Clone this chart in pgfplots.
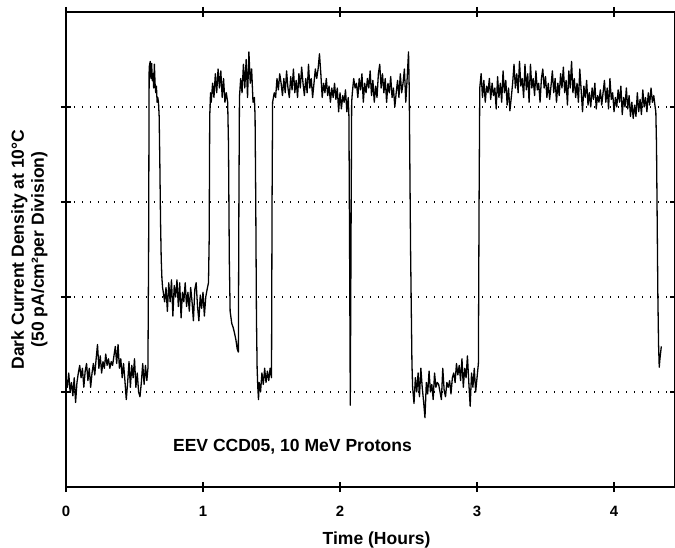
\documentclass[border=0pt]{standalone}
\usepackage{fontspec}
\setmainfont{Liberation Sans}
\usepackage{pgfplots}
\pgfplotsset{compat=1.18}
\begin{document}
\begin{tikzpicture}[font=\fontsize{17.6}{20}\selectfont\bfseries]
\useasboundingbox (-66bp,-61bp) rectangle (609bp,487bp);
\begin{axis}[
  at={(0,0)}, anchor=south west,
  scale only axis, width=609bp, height=475bp,
  xmin=0, xmax=4.445, ymin=0, ymax=5,
  xtick={0,1,2,3,4},
  ytick={1,2,3,4}, yticklabels={},
  tick align=center, major tick length=10bp,
  every tick/.style={black, line width=1.6bp},
  axis line style={line width=2bp},
  ymajorgrids,
  grid style={black, line width=1.4bp, dash pattern=on 1.4bp off 6.6bp},
  /pgf/number format/assume math mode=true,
  xticklabel style={font=\fontsize{15}{18}\selectfont\bfseries, yshift=-11bp},
  xlabel={Time (Hours)},
  xlabel style={at={(axis description cs:0.51,0)}, anchor=base, yshift=-57bp, inner sep=0pt},
  ylabel={Dark Current Density at 10°C\\(50 pA/cm²per Division)},
  ylabel style={align=center, at={(axis description cs:-0.03,0.5)}, anchor=south, inner sep=0pt},
  clip=true,
]
\addplot[black, line width=1.3bp, line join=round] table[row sep=\\] {
x y\\
0.00 1.15\\ 0.01 1.05\\ 0.02 1.20\\ 0.03 1.00\\ 0.04 1.10\\ 0.05 0.96\\ 0.06 1.15\\ 0.07 0.89\\ 0.08 1.10\\ 0.09 1.20\\
0.10 1.28\\ 0.11 1.15\\ 0.12 1.25\\ 0.13 1.05\\ 0.14 1.22\\ 0.15 1.30\\ 0.16 1.12\\ 0.17 1.25\\ 0.18 1.05\\ 0.19 1.20\\
0.20 1.30\\ 0.21 1.18\\ 0.22 1.35\\ 0.23 1.50\\ 0.24 1.25\\ 0.25 1.38\\ 0.26 1.20\\ 0.27 1.32\\ 0.28 1.25\\ 0.29 1.40\\
0.30 1.28\\ 0.31 1.35\\ 0.32 1.25\\ 0.33 1.32\\ 0.34 1.28\\ 0.35 1.38\\ 0.36 1.48\\ 0.37 1.30\\ 0.38 1.50\\ 0.39 1.25\\
0.40 1.35\\ 0.41 1.15\\ 0.42 1.30\\ 0.43 1.12\\ 0.44 0.92\\ 0.45 1.10\\ 0.46 1.32\\ 0.47 1.05\\ 0.48 1.28\\ 0.49 1.15\\
0.50 1.35\\ 0.51 1.05\\ 0.52 1.20\\ 0.53 1.00\\ 0.54 0.95\\ 0.55 1.10\\ 0.56 1.30\\ 0.57 1.08\\ 0.58 1.28\\ 0.59 1.12\\
0.598 1.25\\ 0.603 2.5\\ 0.607 4.42\\ 0.615 4.48\\ 0.62 4.30\\ 0.625 4.46\\ 0.63 4.28\\ 0.635 4.35\\ 0.64 4.20\\ 0.645 4.45\\
0.65 4.25\\ 0.655 4.15\\ 0.66 4.22\\ 0.665 4.05\\ 0.67 4.10\\ 0.675 4.05\\ 0.68 3.9\\ 0.685 3.4\\ 0.69 2.8\\ 0.695 2.4\\ 0.70 2.2\\ 0.705 2.1\\
0.71 2.05\\ 0.72 1.95\\ 0.73 2.10\\ 0.74 1.85\\ 0.75 2.15\\ 0.76 1.95\\ 0.77 2.18\\ 0.78 1.80\\ 0.79 2.12\\ 0.80 2.00\\
0.81 2.18\\ 0.82 1.90\\ 0.83 2.15\\ 0.84 1.78\\ 0.85 2.05\\ 0.86 1.95\\ 0.87 2.15\\ 0.88 1.90\\ 0.89 2.05\\ 0.90 1.85\\
0.91 2.10\\ 0.92 1.95\\ 0.93 1.75\\ 0.94 2.08\\ 0.95 2.15\\ 0.96 1.90\\ 0.97 1.75\\ 0.98 2.02\\ 0.99 1.88\\ 1.00 2.05\\
1.01 1.80\\ 1.02 2.00\\ 1.03 2.08\\ 1.04 2.15\\ 1.045 2.6\\ 1.049 3.9\\ 1.055 4.15\\
1.06 4.05\\ 1.07 4.25\\ 1.08 4.10\\ 1.09 4.35\\ 1.10 4.15\\ 1.11 4.40\\ 1.12 4.20\\ 1.13 4.38\\ 1.14 4.10\\ 1.15 4.30\\
1.16 4.05\\ 1.17 4.15\\ 1.18 4.05\\ 1.186 3.6\\ 1.192 2.4\\ 1.198 1.85\\ 1.21 1.72\\ 1.22 1.68\\ 1.23 1.62\\ 1.24 1.55\\ 1.25 1.45\\ 1.258 1.42\\
1.262 3.0\\ 1.266 4.1\\ 1.275 4.30\\ 1.285 4.15\\ 1.295 4.45\\ 1.305 4.20\\ 1.315 4.50\\ 1.325 4.10\\ 1.335 4.58\\ 1.345 4.25\\
1.355 4.40\\ 1.365 4.05\\ 1.375 4.10\\ 1.38 3.9\\ 1.385 3.0\\ 1.39 1.8\\ 1.395 1.25\\ 1.40 1.05\\ 1.405 0.92\\
1.41 1.10\\ 1.42 1.00\\ 1.43 1.20\\ 1.44 1.08\\ 1.45 1.25\\ 1.46 1.10\\ 1.47 1.22\\ 1.48 1.12\\ 1.49 1.25\\ 1.50 1.15\\
1.504 3.0\\ 1.508 4.05\\ 1.52 4.15\\ 1.53 4.10\\ 1.54 4.30\\ 1.55 4.18\\ 1.56 4.35\\ 1.57 4.25\\ 1.58 4.12\\ 1.59 4.30\\
1.60 4.15\\ 1.61 4.38\\ 1.62 4.20\\ 1.63 4.10\\ 1.64 4.32\\ 1.65 4.18\\ 1.66 4.40\\ 1.67 4.15\\ 1.68 4.28\\ 1.69 4.10\\
1.70 4.35\\ 1.71 4.20\\ 1.72 4.42\\ 1.73 4.25\\ 1.74 4.12\\ 1.75 4.30\\ 1.76 4.15\\ 1.77 4.45\\ 1.78 4.20\\ 1.79 4.30\\
1.80 4.10\\ 1.81 4.25\\ 1.82 4.40\\ 1.83 4.30\\ 1.84 4.40\\ 1.85 4.56\\ 1.86 4.35\\ 1.87 4.10\\ 1.88 4.25\\ 1.89 4.15\\
1.90 4.30\\ 1.91 4.12\\ 1.92 4.22\\ 1.93 4.05\\ 1.94 4.20\\ 1.95 4.10\\ 1.96 4.25\\ 1.97 4.08\\ 1.98 4.20\\ 1.99 3.95\\
2.00 4.15\\ 2.01 3.98\\ 2.02 4.12\\ 2.03 4.05\\ 2.04 4.18\\ 2.05 3.95\\ 2.06 4.10\\ 2.065 3.90\\ 2.07 2.5\\ 2.075 0.86\\
2.08 2.5\\ 2.085 4.05\\ 2.09 4.15\\ 2.10 4.30\\ 2.11 4.20\\ 2.12 4.25\\ 2.13 4.10\\ 2.14 4.30\\ 2.15 4.18\\ 2.16 4.35\\
2.17 4.05\\ 2.18 4.25\\ 2.19 4.15\\ 2.20 4.30\\ 2.21 4.20\\ 2.22 4.38\\ 2.23 4.12\\ 2.24 4.28\\ 2.25 4.05\\ 2.26 4.22\\
2.27 4.10\\ 2.28 4.35\\ 2.29 4.45\\ 2.30 4.20\\ 2.31 4.35\\ 2.32 4.15\\ 2.33 4.30\\ 2.34 4.05\\ 2.35 4.25\\ 2.36 4.15\\
2.37 4.32\\ 2.38 4.10\\ 2.39 4.20\\ 2.40 4.00\\ 2.41 4.15\\ 2.42 4.28\\ 2.43 4.10\\ 2.44 4.35\\ 2.45 4.15\\ 2.46 4.25\\
2.47 4.40\\ 2.48 4.05\\ 2.49 4.30\\ 2.50 4.58\\ 2.505 4.2\\ 2.515 2.5\\ 2.525 1.3\\
2.53 1.05\\ 2.54 0.88\\ 2.55 1.15\\ 2.56 1.00\\ 2.57 1.20\\ 2.58 0.95\\ 2.59 1.25\\ 2.60 1.05\\ 2.61 0.90\\ 2.62 0.73\\
2.63 1.10\\ 2.64 0.98\\ 2.65 1.22\\ 2.66 1.00\\ 2.67 1.08\\ 2.68 0.92\\ 2.69 1.20\\ 2.70 1.05\\ 2.71 1.10\\ 2.72 1.08\\
2.73 1.00\\ 2.74 0.92\\ 2.75 1.25\\ 2.76 1.02\\ 2.77 0.95\\ 2.78 1.10\\ 2.79 1.05\\ 2.80 1.12\\ 2.81 0.98\\ 2.82 1.15\\
2.83 1.20\\ 2.84 1.10\\ 2.85 1.30\\ 2.86 1.18\\ 2.87 1.28\\ 2.88 1.12\\ 2.89 1.35\\ 2.90 1.05\\ 2.91 1.25\\ 2.92 1.15\\
2.93 1.38\\ 2.94 1.10\\ 2.95 0.85\\ 2.96 1.20\\ 2.97 1.05\\ 2.98 1.25\\ 2.99 1.00\\ 3.00 1.15\\ 3.01 1.30\\ 3.015 3.0\\ 3.02 4.2\\
3.03 4.35\\ 3.04 4.10\\ 3.05 4.28\\ 3.06 4.05\\ 3.07 4.22\\ 3.08 4.15\\ 3.09 4.30\\ 3.10 4.08\\ 3.11 4.25\\ 3.12 4.12\\
3.13 4.20\\ 3.14 3.98\\ 3.15 4.32\\ 3.16 4.10\\ 3.17 4.25\\ 3.18 4.05\\ 3.19 4.38\\ 3.20 4.15\\ 3.21 4.28\\ 3.22 4.02\\
3.23 4.20\\ 3.24 3.96\\ 3.25 4.10\\ 3.26 4.25\\ 3.27 4.45\\ 3.28 4.20\\ 3.29 4.35\\ 3.30 4.15\\ 3.31 4.48\\ 3.32 4.22\\
3.33 4.30\\ 3.34 4.10\\ 3.35 4.45\\ 3.36 4.18\\ 3.37 4.35\\ 3.38 4.05\\ 3.39 4.45\\ 3.40 4.20\\ 3.41 4.30\\ 3.42 4.12\\
3.43 4.38\\ 3.44 4.18\\ 3.45 4.25\\ 3.46 4.05\\ 3.47 4.30\\ 3.48 4.40\\ 3.49 4.20\\ 3.50 4.32\\ 3.51 4.10\\ 3.52 4.25\\
3.53 4.08\\ 3.54 4.22\\ 3.55 4.38\\ 3.56 4.15\\ 3.57 4.30\\ 3.58 4.05\\ 3.59 4.25\\ 3.60 4.12\\ 3.61 4.35\\ 3.62 4.20\\
3.63 4.42\\ 3.64 4.15\\ 3.65 4.28\\ 3.66 4.02\\ 3.67 4.38\\ 3.68 4.20\\ 3.69 4.48\\ 3.70 4.15\\ 3.71 4.30\\ 3.72 4.10\\
3.73 4.25\\ 3.74 4.05\\ 3.75 4.40\\ 3.76 4.18\\ 3.77 3.95\\ 3.78 4.22\\ 3.79 4.10\\ 3.80 4.28\\ 3.81 4.02\\ 3.82 4.15\\
3.83 4.00\\ 3.84 4.20\\ 3.85 4.08\\ 3.86 4.25\\ 3.87 3.98\\ 3.88 4.12\\ 3.89 4.05\\ 3.90 4.18\\ 3.91 4.02\\ 3.92 4.15\\
3.93 4.28\\ 3.94 4.05\\ 3.95 4.20\\ 3.96 3.98\\ 3.97 4.30\\ 3.98 4.08\\ 3.99 4.15\\ 4.00 3.95\\ 4.01 4.10\\ 4.02 4.00\\
4.03 4.18\\ 4.04 4.05\\ 4.05 4.22\\ 4.06 3.92\\ 4.07 4.10\\ 4.08 4.00\\ 4.09 4.20\\ 4.10 3.98\\ 4.11 4.12\\ 4.12 3.90\\
4.13 4.05\\ 4.14 3.88\\ 4.15 4.02\\ 4.16 3.90\\ 4.17 4.15\\ 4.18 3.95\\ 4.19 4.08\\ 4.20 3.92\\ 4.21 4.18\\ 4.22 4.00\\
4.23 4.10\\ 4.24 3.95\\ 4.25 4.15\\ 4.26 4.02\\ 4.27 4.20\\ 4.28 4.05\\ 4.29 4.12\\ 4.30 4.00\\ 4.305 3.95\\
4.31 3.6\\ 4.315 2.8\\ 4.32 2.0\\ 4.325 1.5\\ 4.33 1.26\\ 4.335 1.35\\ 4.345 1.48\\
};
\node[anchor=base west, inner sep=0pt] at (axis cs:0.78,0.37) {EEV CCD05, 10 MeV Protons};
\end{axis}
\end{tikzpicture}
\end{document}
